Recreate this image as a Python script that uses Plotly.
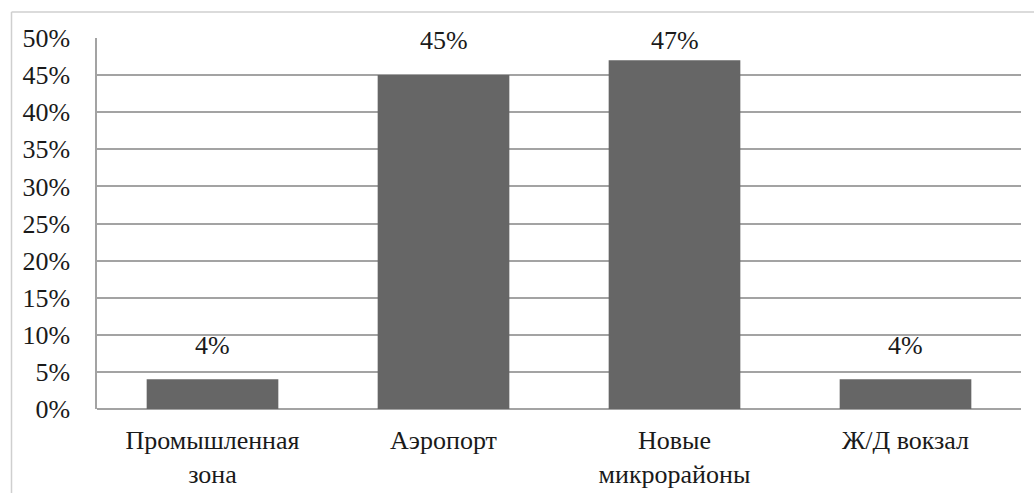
import plotly.graph_objects as go

categories = ["Промышленная<br>зона", "Аэропорт", "Новые<br>микрорайоны", "Ж/Д вокзал"]
values = [4, 45, 47, 4]
tick_vals = [0, 5, 10, 15, 20, 25, 30, 35, 40, 45, 50]
tick_text = [f"{v}%" for v in tick_vals]

FONT = "serif"
GRID = "#a3a3a3"
TEXT = "#1a1a1a"

fig = go.Figure()
fig.add_trace(go.Bar(
    x=categories, y=values,
    marker=dict(color="#666666", line=dict(width=0)),
    width=0.57,
    hoverinfo="skip",
))

for c, v in zip(categories, values):
    fig.add_annotation(
        x=c, y=min(v + 4.6, 49.6), text=f"{v}%", showarrow=False,
        yanchor="middle", font=dict(family=FONT, size=26, color=TEXT),
    )

fig.update_layout(
    width=1034, height=493,
    margin=dict(l=97, r=13, t=38, b=84),
    paper_bgcolor="white", plot_bgcolor="white",
    showlegend=False,
    bargap=0.43,
    font=dict(family=FONT, size=26, color=TEXT),
)
fig.update_xaxes(
    showgrid=False, showline=False, zeroline=False, ticks="",
    tickfont=dict(family=FONT, size=26, color=TEXT),
    ticklabelstandoff=13, automargin=False,
)
fig.update_yaxes(
    range=[0, 50], tickvals=tick_vals, ticktext=tick_text,
    showgrid=True, gridcolor=GRID, gridwidth=1.5,
    zeroline=True, zerolinecolor=GRID, zerolinewidth=1.5,
    showline=True, linecolor=GRID, linewidth=1.5,
    ticks="", ticklabelstandoff=20, automargin=False,
    tickfont=dict(family=FONT, size=26, color=TEXT),
)

# outer frame: left and top edges
fx = (11.5 - 97) / 924
fy = 1 + (38 - 12) / 371
fig.add_shape(
    type="line", xref="paper", yref="paper",
    x0=fx, x1=fx, y0=-0.3, y1=fy,
    line=dict(color="#cfcfcf", width=1.5),
)
fig.add_shape(
    type="line", xref="paper", yref="paper",
    x0=fx, x1=1.1, y0=fy, y1=fy,
    line=dict(color="#cfcfcf", width=1.5),
)

fig.write_html(
    "out.html",
    config={"displayModeBar": False},
    post_script="document.body.style.margin='0';",
)
